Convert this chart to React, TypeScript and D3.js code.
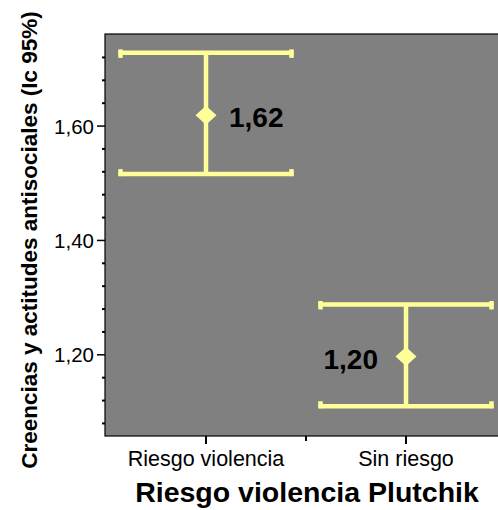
import React from "react";
import * as d3 from "d3";

const categories = ["Riesgo violencia", "Sin riesgo"];
const means = [1.619, 1.197];
const lowerCI = [1.516, 1.11];
const upperCI = [1.728, 1.288];
const meanLabels = ["1,62", "1,20"];
const majorTicks = [1.2, 1.4, 1.6];
const minorTicks = [1.08, 1.12, 1.16, 1.24, 1.28, 1.32, 1.36, 1.44, 1.48, 1.52, 1.56, 1.64, 1.68, 1.72];
const yTitle = "Creencias y actitudes antisociales (Ic 95%)";
const xTitle = "Riesgo violencia Plutchik";

const W = 498;
const H = 510;
const FONT = "'Liberation Sans', Arial, sans-serif";
const YELLOW = "#ffff99";

export default function App() {
  const left = 105;
  const top = 34;
  const bottom = 436;
  const right = 506;
  const y = d3.scaleLinear().domain([1.058, 1.761]).range([bottom, top]);
  const x = d3.scaleBand<string>().domain(categories).range([106, right]).paddingInner(0).paddingOuter(0);
  const bw = x.bandwidth();
  const capHalf = (bw * 0.875) / 2;
  const fmt = (v: number) => d3.format(".2f")(v).replace(".", ",");
  const boundaries = categories.slice(1).map((c) => x(c) as number);

  return (
    <svg width={W} height={H} style={{ position: "absolute", left: 0, top: 0, background: "#fff" }}>
      <rect x={left} y={top} width={W - left + 20} height={bottom - top} fill="#808080" stroke="#000" strokeWidth={1.2} />
      {/* y ticks */}
      {minorTicks.map((t) => (
        <line key={"mn" + t} x1={left - 3} x2={left} y1={y(t)} y2={y(t)} stroke="#000" strokeWidth={2} />
      ))}
      {majorTicks.map((t) => (
        <g key={"mj" + t}>
          <line x1={left - 8} x2={left} y1={y(t)} y2={y(t)} stroke="#000" strokeWidth={1.5} />
          <text x={94} y={y(t) + 7.5} textAnchor="end" fontFamily={FONT} fontSize={20.5} fill="#000">
            {fmt(t)}
          </text>
        </g>
      ))}
      {/* x ticks */}
      {categories.map((c) => {
        const cx = (x(c) as number) + bw / 2;
        return (
          <g key={"xt" + c}>
            <line x1={cx} x2={cx} y1={bottom} y2={bottom + 8} stroke="#000" strokeWidth={2} />
            <text x={cx} y={466} textAnchor="middle" fontFamily={FONT} fontSize={21.5} fill="#000">
              {c}
            </text>
          </g>
        );
      })}
      {boundaries.map((b) => (
        <line key={"b" + b} x1={b} x2={b} y1={bottom} y2={bottom + 5} stroke="#000" strokeWidth={2} />
      ))}
      {/* error bars */}
      {categories.map((c, i) => {
        const cx = (x(c) as number) + bw / 2;
        const yu = y(upperCI[i]);
        const yl = y(lowerCI[i]);
        const ym = y(means[i]);
        const labelRight = i === 0;
        return (
          <g key={"eb" + c}>
            <line x1={cx} x2={cx} y1={yu} y2={yl} stroke={YELLOW} strokeWidth={4.5} />
            <line x1={cx - capHalf} x2={cx + capHalf} y1={yu} y2={yu} stroke={YELLOW} strokeWidth={4.5} />
            <line x1={cx - capHalf} x2={cx + capHalf} y1={yl} y2={yl} stroke={YELLOW} strokeWidth={4.5} />
            {[cx - capHalf + 2, cx + capHalf - 2].map((ex) => (
              <g key={"e" + ex}>
                <line x1={ex} x2={ex} y1={yu - 3.5} y2={yu + 5} stroke={YELLOW} strokeWidth={4.5} />
                <line x1={ex} x2={ex} y1={yl - 5} y2={yl + 2} stroke={YELLOW} strokeWidth={4.5} />
              </g>
            ))}
            <path d={`M${cx},${ym - 9.5}L${cx + 10.5},${ym}L${cx},${ym + 9.5}L${cx - 10.5},${ym}Z`} fill={YELLOW} />
            <text
              x={labelRight ? cx + 23 : cx - 28}
              y={ym + 12}
              textAnchor={labelRight ? "start" : "end"}
              fontFamily={FONT}
              fontWeight="bold"
              fontSize={28}
              fill="#000"
            >
              {meanLabels[i]}
            </text>
          </g>
        );
      })}
      {/* titles */}
      <text x={307} y={502} textAnchor="middle" fontFamily={FONT} fontWeight="bold" fontSize={28.5} fill="#000">
        {xTitle}
      </text>
      <text
        transform={`translate(37,240) rotate(-90)`}
        textAnchor="middle"
        fontFamily={FONT}
        fontWeight="bold"
        fontSize={22.5}
        fill="#000"
      >
        {yTitle}
      </text>
    </svg>
  );
}
